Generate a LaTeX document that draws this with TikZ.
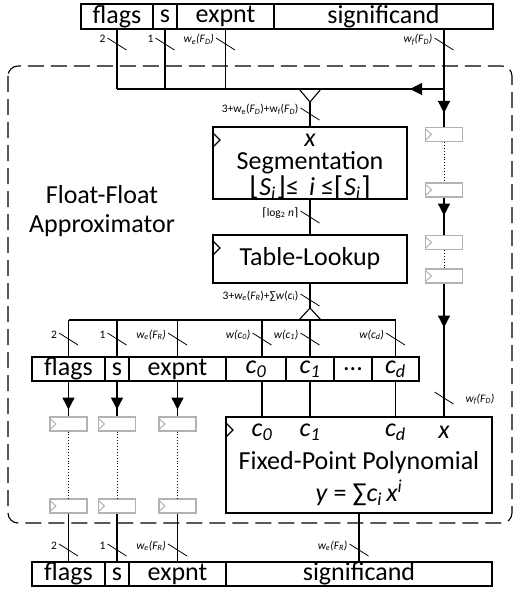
\documentclass[tikz,border=0pt]{standalone}
\usepackage{fontspec}
\setmainfont{Carlito}
\newfontfamily\symf{DejaVu Sans}
\usetikzlibrary{arrows.meta,calc,decorations.markings}

\newcommand{\bigf}{\fontsize{26}{29}\selectfont}
\newcommand{\smallf}{\fontsize{11.5}{13}\selectfont}
\newcommand{\brk}[1]{{\symf\fontsize{26}{29}\selectfont #1}}
% bus width mark, label on the left / on the right
\newcommand{\wmark}[2]{%
  \draw[line width=0.8pt] ($(#1)+(-9.5pt,6pt)$) -- ++(19pt,-12pt);
  \node[lbl,anchor=base east] at ($(#1)+(-11pt,1pt)$) {#2};}
\newcommand{\wmarkr}[2]{%
  \draw[line width=0.8pt] ($(#1)+(-9.5pt,6pt)$) -- ++(19pt,-12pt);
  \node[lbl,anchor=base west] at ($(#1)+(21pt,-4pt)$) {#2};}

\begin{document}
\begin{tikzpicture}[x=1pt,y=-1pt,line width=1.1pt,
    field/.style={draw,minimum height=24pt,inner sep=0pt,font=\bigf},
    blk/.style={draw,inner sep=0pt,font=\bigf,
      path picture={\draw[line width=1.1pt] ([yshift=-6pt]path picture bounding box.north west)
        -- ++(7pt,-7pt) -- ++(-7pt,-7pt);}},
    reg/.style={draw=black!30,fill=white,minimum width=37pt,minimum height=14pt,inner sep=0pt,
      path picture={\draw[black!30,line width=1pt] ([yshift=-1.5pt]path picture bounding box.north west)
        -- ++(6pt,-5.5pt) -- ++(-6pt,-5.5pt);}},
    lbl/.style={font=\smallf,inner sep=0pt},
    arr/.style={postaction={decorate},decoration={markings,
      mark=at position #1 with {\arrow{Triangle[length=12pt,width=12pt]}}}}]
  \useasboundingbox (0,0) rectangle (514,591);

  \draw[dash pattern=on 16pt off 7pt,rounded corners=10pt] (8,66) rectangle (512,523);
  \node[font=\bigf,align=center] (title) at (102,211) {Float-Float\\Approximator};

  % input word
  \node[field,minimum height=25pt,minimum width=72pt] (tflags) at (117,16.5) {flags};
  \node[field,minimum height=25pt,minimum width=24pt] (ts) at (165,16.5) {s};
  \node[field,minimum height=25pt,minimum width=97pt] (texp) at (225.5,16.5) {expnt};
  \node[field,minimum height=25pt,minimum width=219pt] (tsig) at (383.5,16.5) {significand};
  \coordinate (tx) at (444,29);
  \coordinate (jn) at (310,89);
  \coordinate (mrg) at (310,102);

  \draw (tflags.south) -- (tflags.south |- jn);
  \draw (ts.south) -- (ts.south |- jn);
  \draw (texp.south) -- (texp.south |- jn);
  \draw[arr=34pt] (tx |- jn) -- (tflags.south |- jn);
  \draw ($(mrg)+(-11pt,13pt)$) -- (mrg) -- ++(11pt,13pt);

  \wmark{117,44}{2}
  \wmark{165,44}{1}
  \wmark{225.5,44}{\textit{w\textsubscript{e}(F\textsubscript{D})}}
  \wmark{444,44}{\textit{w\textsubscript{f}(F\textsubscript{D})}}

  % segmentation and table
  \node[blk,minimum width=194pt,minimum height=72pt] (seg) at (310,163) {};
  \node[font=\bigf,inner sep=0pt] (segx) at (310,140) {\itshape x};
  \node[font=\bigf,inner sep=0pt] (segt) at (310,163) {Segmentation};
  \node[font=\bigf,inner sep=0pt] (segr) at (310,188)
    {\brk{⌊}\textit{S\textsubscript{i}}\brk{⌋}≤\, \textit{i} ≤\brk{⌈}\textit{S\textsubscript{i}}\brk{⌉}};
  \node[blk,minimum width=194pt,minimum height=48pt] (tab) at (310,259) {Table-Lookup};
  \coordinate (spl) at (310,308);
  \coordinate (bus) at (310,320);

  \draw (mrg) -- (seg.north);
  \draw (seg.south) -- (tab.north);
  \draw (tab.south) -- (spl);
  \draw ($(spl)+(-11pt,-12pt)$) -- (spl) -- ++(11pt,-12pt);

  \wmark{310,114}{3+w\textsubscript{e}(\textit{F\textsubscript{D}})+w\textsubscript{f}(\textit{F\textsubscript{D}})}
  \wmark{310,217}{{\symf ⌈}log\textsubscript{2} \textit{n}{\symf ⌉}}
  \wmark{310,300}{3+\textit{w\textsubscript{e}}(\textit{F\textsubscript{R}})+∑\textit{w}(\textit{c\textsubscript{i}})}

  % significand delay line
  \node[reg] (rA) at (444,134.5) {};
  \node[reg] (rB) at (444,190) {};
  \node[reg] (rC) at (444,242.5) {};
  \node[reg] (rD) at (444,276) {};
  \draw[arr=84pt] (tx) -- (rA.north);
  \draw[dotted,line width=0.9pt] (rA.south) -- (rB.north);
  \draw[arr=18pt] (rB.south) -- (rC.north);
  \draw[dotted,line width=0.9pt] (rC.south) -- (rD.north);

  % table output word
  \node[field,minimum width=73pt] (mflags) at (68.5,369) {flags};
  \node[field,minimum width=24pt] (ms) at (117,369) {s};
  \node[field,minimum width=97pt] (mexp) at (177.5,369) {expnt};
  \node[field,minimum width=60pt] (mc0) at (256,369) {\textit{c\textsubscript{0}}};
  \node[field,minimum width=48pt] (mc1) at (310,369) {\textit{c\textsubscript{1}}};
  \node[field,minimum width=38pt] (mdots) at (353,369) {...};
  \node[field,minimum width=47pt] (mcd) at (395.5,369) {\textit{c\textsubscript{d}}};
  \coordinate (c0x) at (262,369);

  \draw (mflags.north |- bus) -- (mcd.north |- bus);
  \foreach \n in {mflags,ms,mexp,mc1,mcd}
    \draw (\n.north |- bus) -- (\n.north);
  \draw (c0x |- bus) -- (c0x |- mc0.north);

  \foreach \x/\t in {68.5/{2},117/{1},177.5/{\textit{w\textsubscript{e}(F\textsubscript{R})}},
      262/{\textit{w(c\textsubscript{0})}},310/{\textit{w(c\textsubscript{1})}},395.5/{\textit{w(c\textsubscript{d})}}}
    {\wmark{\x,339}{\t}}

  % polynomial
  \node[blk,minimum width=266pt,minimum height=96pt] (poly) at (359,465) {};
  \node[font=\bigf,inner sep=0pt] (pc0) at (262,432) {\textit{c\textsubscript{0}}};
  \node[font=\bigf,inner sep=0pt] (pc1) at (310,432) {\textit{c\textsubscript{1}}};
  \node[font=\bigf,inner sep=0pt] (pcd) at (395.5,432) {\textit{c\textsubscript{d}}};
  \node[font=\bigf,inner sep=0pt] (px) at (444,432) {\textit{x}};
  \node[font=\bigf,inner sep=0pt] (pt) at (359,463) {Fixed-Point Polynomial};
  \node[font=\bigf,inner sep=0pt] (py) at (359,493)
    {\textit{y} = ∑\textit{c\textsubscript{i}\,x\textsuperscript{i}}};

  \draw (c0x |- mc0.south) -- (c0x |- poly.north);
  \draw (mc1.south) -- (mc1.south |- poly.north);
  \draw (mcd.south) -- (mcd.south |- poly.north);
  \draw[arr=44pt] (rD.south) -- (rD.south |- poly.north);
  \wmarkr{444,398}{\textit{w\textsubscript{f}(F\textsubscript{D})}}

  % result word
  \node[field,minimum width=73pt] (bflags) at (68.5,574) {flags};
  \node[field,minimum width=24pt] (bs) at (117,574) {s};
  \node[field,minimum width=97pt] (bexp) at (177.5,574) {expnt};
  \node[field,minimum width=266pt] (bsig) at (359,574) {significand};

  \foreach \n in {flags,s,exp} {
    \node[reg] (u\n) at (m\n.south |- 0,424) {};
    \node[reg] (d\n) at (m\n.south |- 0,506) {};
    \draw[arr=28pt] (m\n.south) -- (u\n.north);
    \draw[dotted,line width=0.9pt] (u\n.south) -- (d\n.north);
    \draw (d\n.south) -- (b\n.north);
  }
  \draw (poly.south) -- (bsig.north);

  \foreach \x/\t in {68.5/{2},117/{1},177.5/{\textit{w\textsubscript{e}(F\textsubscript{R})}},
      359/{\textit{w\textsubscript{e}(F\textsubscript{R})}}}
    {\wmark{\x,550}{\t}}
\end{tikzpicture}
\end{document}
